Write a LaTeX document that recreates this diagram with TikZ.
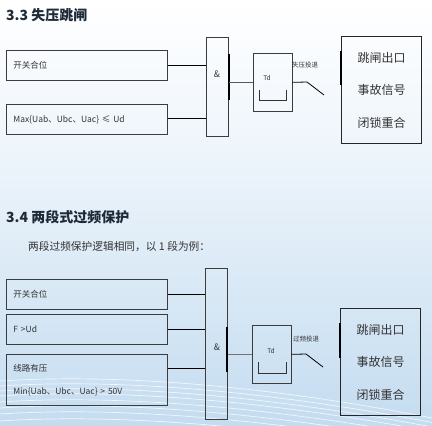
\documentclass[tikz,border=0pt]{standalone}
\usepackage{fontspec}
\setmainfont{Noto Sans CJK SC}
\usetikzlibrary{calc}
\definecolor{bgmid}{HTML}{EEF5FB}
\definecolor{bgbot}{HTML}{C4DCF0}
\definecolor{boxc}{HTML}{3C3C3C}
\definecolor{txtc}{HTML}{333333}
\definecolor{titc}{HTML}{1E2A38}
\begin{document}
\begin{tikzpicture}[x=1pt,y=-1pt,
  inbox/.style={draw=boxc, line width=0.8pt, minimum width=161pt, minimum height=30pt,
    text width=147pt, inner xsep=7pt, align=left, anchor=north west,
    font=\fontsize{8.5}{10}\selectfont, text=txtc},
  gate/.style={draw=boxc, line width=0.8pt, minimum width=22pt, anchor=north west, inner sep=0pt},
  tdbox/.style={draw=boxc, line width=0.7pt, minimum width=39pt, minimum height=58pt, anchor=north west, inner sep=0pt},
  outbox/.style={draw=black!85, line width=1.1pt, minimum width=80pt, minimum height=107pt,
    anchor=north west, align=center, font=\fontsize{12}{32.5}\selectfont, text=txtc},
  wire/.style={draw=black, line width=0.8pt},
  bar/.style={draw=black, line width=2pt},
  small/.style={font=\fontsize{6.5}{7}\selectfont, text=txtc, inner sep=0pt},
  title/.style={font=\fontsize{14}{16}\selectfont\bfseries, text=titc, anchor=west, inner sep=0pt},
  wave/.style={draw=white, opacity=0.75, line width=0.7pt}
]
\useasboundingbox (0,0) rectangle (432,426);
% background
\shade[top color=white, bottom color=bgmid] (0,0) rectangle (432,150);
\shade[top color=bgmid, bottom color=bgbot] (0,150) rectangle (432,426);
\foreach \d in {0,5,10,15,21,27,33,40}{
  \draw[wave] (0,{381+\d}) .. controls (140,{372+\d}) and (300,{392+\d}) .. (432,{418+\d*0.9});
}

% ===== 3.3 =====
\node[title] (t1) at (6,15) {3.3 失压跳闸};
\node[inbox] (a1) at (6,50) {开关合位};
\node[inbox] (a2) at (6,104) {Max\{Uab、Ubc、Uac\} ≤ Ud};
\node[gate, minimum height=99pt] (g1) at (206,37) {};
\node[font=\fontsize{9}{10}\selectfont, text=txtc] (amp1) at (217,74) {\&};
\draw[bar] ($(g1.north east)+(0,17)$) -- ($(g1.north east)+(0,63)$);
\draw[wire] (a1.east) -- (a1.east -| g1.west);
\draw[wire] ($(a2.east)+(0,-1)$) -- ($(a2.east -| g1.west)+(0,-1)$);
\node[tdbox] (td1) at (253,53) {};
\node[small, font=\fontsize{6.5}{7}\selectfont] (tdl1) at (267,78) {Td};
\draw[line width=1pt, black!80] (259,90) -- (259,100) -- (286,100) -- (286,90);
\draw[wire, draw=black!65] (td1.west -| g1.east) -- (td1.west);
\coordinate (s1) at (307,82);
\coordinate (e1) at (324,95);
\draw[wire] (td1.east) -- (s1) -- (e1);
\node[small, anchor=west] (l1) at (292,65) {失压投退};
\node[outbox] (o1) at (341,36) {跳闸出口\\事故信号\\闭锁重合};
\draw[bar] (341,51) -- (341,85);

% ===== 3.4 =====
\node[title] (t2) at (6,217) {3.4 两段式过频保护};
\node[anchor=west, inner sep=0pt, font=\fontsize{10.7}{12}\selectfont, text=txtc] (sub) at (28,247) {两段过频保护逻辑相同，以 1 段为例：};
\node[inbox] (b1) at (6,279) {开关合位};
\node[inbox] (b2) at (6,314) {F >Ud};
\node[inbox, minimum height=51pt, font=\fontsize{8.5}{23}\selectfont] (b3) at (6,354) {线路有压\\Min\{Uab、Ubc、Uac\} > 50V};
\node[gate, minimum height=151pt] (g2) at (205,268) {};
\node[font=\fontsize{9}{10}\selectfont, text=txtc] (amp2) at (217,347) {\&};
\draw[bar] (227,327) -- (227,372);
\draw[wire] (b1.east) -- (b1.east -| g2.west);
\draw[wire] (b2.east) -- (b2.east -| g2.west);
\draw[wire] ($(b3.north east)+(0,14)$) -- ($(b3.north east -| g2.west)+(0,14)$);
\node[tdbox] (td2) at (252,325) {};
\node[small, font=\fontsize{6.5}{7}\selectfont] (tdl2) at (271,351) {Td};
\draw[line width=1pt, black!80] (258,362) -- (258,373) -- (286,373) -- (286,362);
\draw[wire, draw=black!55, line width=1.1pt] (td2.west -| g2.east) -- (td2.west);
\coordinate (s2) at (306,354);
\coordinate (e2) at (323,367);
\draw[wire] (td2.east) -- (s2) -- (e2);
\node[small, anchor=west] (l2) at (293,339) {过频投退};
\node[outbox] (o2) at (340,308) {跳闸出口\\事故信号\\闭锁重合};
\draw[bar] (340,323) -- (340,358);
\end{tikzpicture}
\end{document}
